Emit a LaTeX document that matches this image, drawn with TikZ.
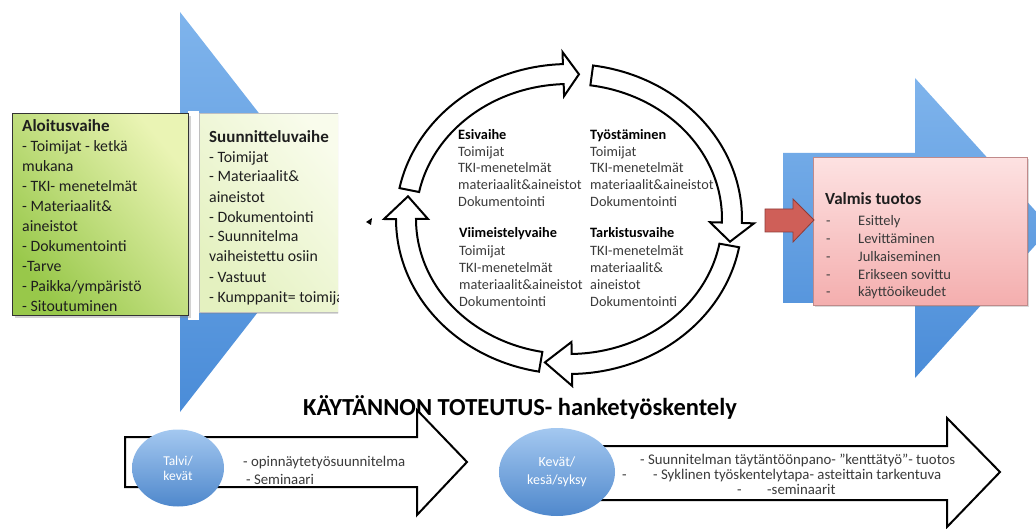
\documentclass[tikz,border=0pt]{standalone}
\usepackage{fontspec}
\setmainfont{Carlito}
\usetikzlibrary{shapes.geometric,shadows}
\definecolor{blueL}{HTML}{7FB4EC}
\definecolor{blueD}{HTML}{4A8CD8}
\definecolor{grnL}{HTML}{EAF4B4}
\definecolor{grnD}{HTML}{98C84A}
\definecolor{paleL}{HTML}{F9FCEC}
\definecolor{paleD}{HTML}{E4F1C0}
\definecolor{pinkL}{HTML}{FDE2E2}
\definecolor{pinkD}{HTML}{F4AEAE}
\definecolor{pinkB}{HTML}{C08A8A}
\definecolor{redA}{HTML}{CF5F58}
\definecolor{redB}{HTML}{8E3B38}
\definecolor{ellL}{HTML}{A4C8F0}
\definecolor{ellD}{HTML}{4F88CC}
\definecolor{txtD}{HTML}{1E1E1E}
\definecolor{txtG}{HTML}{3A3A3A}
\newcommand{\cyclearrow}[3]{%
\filldraw[cycarrow] plot[domain=0:1,samples=50,variable=\t] ({569+173*cos(#1+(#2-#1)*\t)},{219-155*sin(#1+(#2-#1)*\t)})
 -- ({569+185*cos(#2)},{219-167*sin(#2)})
 -- ({569+163*cos(#3)},{219-145*sin(#3)})
 -- ({569+141*cos(#2)},{219-123*sin(#2)})
 -- plot[domain=0:1,samples=50,variable=\t] ({569+153*cos(#2+(#1-#2)*\t)},{219-135*sin(#2+(#1-#2)*\t)})
 -- cycle;}
\begin{document}
\begin{tikzpicture}[x=1pt,y=-1pt,
  cycarrow/.style={draw=black,fill=white,line width=2pt,line join=miter},
  barrow/.style={draw=black,fill=white,line width=2pt,line join=miter},
  bluearrow/.style={top color=blueL,bottom color=blueD,shading angle=0},
  boxtxt/.style={anchor=base west,inner sep=0,align=left,text=txtD,font=\fontsize{15.8}{20}\selectfont},
  ctxt/.style={anchor=base west,inner sep=0,align=left,text=txtG,font=\fontsize{14.3}{16.8}\selectfont},
  ptxt/.style={anchor=base west,inner sep=0,align=left,text=txtG,font=\fontsize{14.5}{17.9}\selectfont},
  btxt/.style={anchor=base west,inner sep=0,text=txtG,font=\fontsize{14.8}{18}\selectfont},
  ell/.style={ellipse,inner sep=0,top color=ellL,bottom color=ellD,text=white,align=center}]
\useasboundingbox (0,0) rectangle (1036,529);
% left blue arrow
\shade[bluearrow] (20,118) -- (180,118) -- (180,12) -- (336,212) -- (180,412) -- (180,306) -- (20,306) -- cycle;
\fill[white] (188,111) rectangle (199,320);
% boxes
\node[draw=black!80,line width=1.2pt,top color=grnL,bottom color=grnD,shading angle=-50,
  drop shadow={shadow xshift=2pt,shadow yshift=-2pt,opacity=.35},
  minimum width=176pt,minimum height=202pt,anchor=north west,inner sep=0] (alo) at (12,113) {};
\begin{scope}
\clip (190,100) rectangle (338,330);
\node[draw=black!25,line width=0.6pt,top color=paleL,bottom color=paleD,shading angle=-50,
  drop shadow={shadow xshift=2pt,shadow yshift=-2pt,opacity=.3},
  minimum width=150pt,minimum height=199pt,anchor=north west,inner sep=0] (suu) at (199,113) {};
\node[boxtxt] (suut) at (209,302) {{\bfseries\fontsize{17}{20}\selectfont Suunnitteluvaihe}\\- Toimijat\\- Materiaalit\&\\aineistot\\- Dokumentointi\\- Suunnitelma\\vaiheistettu osiin\\- Vastuut\\- Kumppanit= toimijat};
\end{scope}
\node[boxtxt] (alot) at (22,312) {{\bfseries\fontsize{17}{20}\selectfont Aloitusvaihe}\\- Toimijat - ketkä\\mukana\\- TKI- menetelmät\\- Materiaalit\&\\aineistot\\- Dokumentointi\\-Tarve\\- Paikka/ympäristö\\- Sitoutuminen};
% cycle arrows
\cyclearrow{168.5}{92}{86.5}
\cyclearrow{82}{-1.5}{-9}
\cyclearrow{-10.5}{-89}{-98.5}
\cyclearrow{260}{180}{171}
% cycle texts
\node[ctxt] (esi) at (458,206.5) {\textbf{\color{black}Esivaihe}\\Toimijat\\TKI-menetelmät\\materiaalit\&aineistot\\Dokumentointi};
\node[ctxt] (tyo) at (590,206.5) {\textbf{\color{black}Työstäminen}\\Toimijat\\TKI-menetelmät\\materiaalit\&aineistot\\Dokumentointi};
\node[ctxt] (vii) at (459,306) {\textbf{\color{black}Viimeistelyvaihe}\\[1.5pt]Toimijat\\TKI-menetelmät\\materiaalit\&aineistot\\Dokumentointi};
\node[ctxt] (tar) at (590,306) {\textbf{\color{black}Tarkistusvaihe}\\[1.5pt]TKI-menetelmät\\materiaalit\&\\aineistot\\Dokumentointi};
\fill[black] (366,222) -- (372,218) -- (371,225) -- cycle;
% right blue arrow
\shade[bluearrow] (783,153) -- (915,153) -- (915,78) -- (1051,228) -- (915,378) -- (915,303) -- (783,303) -- cycle;
\node[draw=pinkB,line width=0.9pt,top color=pinkL,bottom color=pinkD,
  drop shadow={shadow xshift=2pt,shadow yshift=-2pt,opacity=.3},
  minimum width=214pt,minimum height=148pt,anchor=north west,inner sep=0] (valmis) at (813,157) {};
\filldraw[fill=redA,draw=redB,line width=0.8pt] (765,209) -- (793,209) -- (793,199) -- (814,220) -- (793,242) -- (793,232) -- (765,232) -- cycle;
\node[anchor=base west,inner sep=0,text=txtD,font=\bfseries\fontsize{17}{18}\selectfont] (valt) at (825,204.5) {Valmis tuotos};
\node[ptxt] (vdash) at (826,297) {-\\-\\-\\-\\-};
\node[ptxt] (vitems) at (858,297) {Esittely\\Levittäminen\\Julkaiseminen\\Erikseen sovittu\\käyttöoikeudet};
% title
\node[inner sep=0,text=black,font=\bfseries\fontsize{24.5}{26}\selectfont] (title) at (520,407) {KÄYTÄNNON TOTEUTUS- hanketyöskentely};
% bottom arrows
\draw[barrow] (125,437) -- (417,437) -- (417,410) -- (467,462) -- (417,515) -- (417,487) -- (125,487) -- cycle;
\draw[barrow] (540,446) -- (947,446) -- (947,418) -- (1000,472) -- (947,527) -- (947,500) -- (540,500) -- cycle;
\node[ell,minimum width=92pt,minimum height=77pt,font=\fontsize{13.5}{15}\selectfont] (talvi) at (178,468) {Talvi/\\kevät};
\node[ell,minimum width=116pt,minimum height=88pt,font=\fontsize{14}{18}\selectfont] (kevat) at (557,472) {Kevät/\\kesä/syksy};
\node[btxt] (op1) at (243,466) {- opinnäytetyösuunnitelma};
\node[btxt] (op2) at (246,484) {- Seminaari};
\node[btxt] (k1) at (640,464) {- Suunnitelman täytäntöönpano- "kenttätyö"- tuotos};
\node[btxt] (k2a) at (622,479) {-};
\node[btxt] (k2b) at (653,479) {- Syklinen työskentelytapa- asteittain tarkentuva};
\node[btxt] (k3a) at (737,494) {-};
\node[btxt] (k3b) at (767,494) {-seminaarit};
\end{tikzpicture}
\end{document}
